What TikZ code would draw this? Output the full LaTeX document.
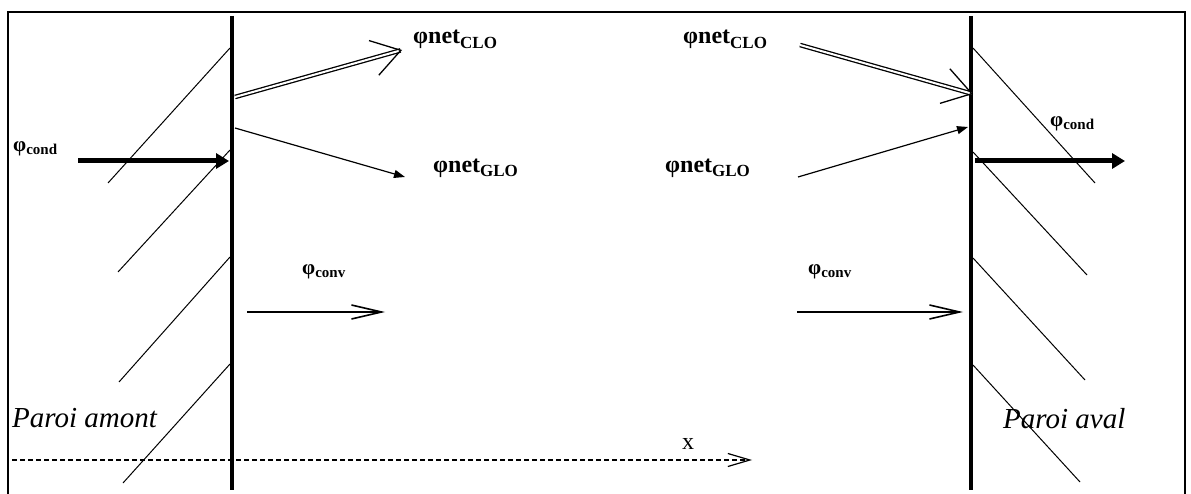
\documentclass[tikz,border=0pt]{standalone}
\usepackage{fontspec}
\setmainfont{Liberation Serif}
\usetikzlibrary{arrows.meta,calc}
\newcommand{\flux}[5]{{\fontsize{#1}{#1}\selectfont\bfseries #3\raisebox{-#4pt}{\fontsize{#2}{#2}\selectfont #5}}}
\tikzset{
  frame/.style={line width=2pt},
  wall/.style={line width=4.5pt},
  hatch/.style={line width=1pt},
  condarrow/.style={line width=5pt,-{Triangle[length=13pt,width=15pt]}},
  dblline/.style={line width=1.3pt,double distance=2pt},
  barbhead/.style={line width=1.3pt,-{Straight Barb[length=28pt,width=36pt]}},
  glo/.style={line width=1.2pt,-{Triangle[length=11pt,width=8pt]}},
  conv/.style={line width=1.6pt,-{Straight Barb[length=30pt,width=14pt]}},
  axis/.style={line width=1.2pt,dash pattern=on 5pt off 3pt,-{Straight Barb[length=22pt,width=13pt]}},
  lab/.style={inner sep=0pt,anchor=base west},
  wallname/.style={inner sep=0pt,anchor=base west,font=\fontsize{29}{30}\selectfont\itshape}
}
\begin{document}
\begin{tikzpicture}[x=1pt,y=-1pt]
\useasboundingbox (0,0) rectangle (1191,494);
\draw[frame] (8,494) -- (8,12) -- (1185,12) -- (1185,494);
% walls
\coordinate (lwt) at (232,16); \coordinate (lwb) at (232,490);
\coordinate (rwt) at (971,16); \coordinate (rwb) at (971,490);
\draw[wall] (lwt) -- (lwb);
\draw[wall] (rwt) -- (rwb);
% hatching
\draw[hatch] (230,48) -- (108,183);
\draw[hatch] (230,150) -- (118,272);
\draw[hatch] (230,257) -- (119,382);
\draw[hatch] (230,364) -- (123,483);
\draw[hatch] (973,48) -- (1095,183);
\draw[hatch] (973,152) -- (1087,275);
\draw[hatch] (973,258) -- (1085,380);
\draw[hatch] (973,365) -- (1080,482);
% labels
\node[lab] (cl1) at (413,44) {\flux{24}{17}{φnet}{5}{CLO}};
\node[lab] (cl2) at (683,44) {\flux{24}{17}{φnet}{5}{CLO}};
\node[lab] (gl1) at (433,173) {\flux{24}{17}{φnet}{4}{GLO}};
\node[lab] (gl2) at (665,173) {\flux{24}{17}{φnet}{4}{GLO}};
\node[lab] (cd1) at (13,152) {\flux{21}{15}{φ}{3}{cond}};
\node[lab] (cd2) at (1050,127) {\flux{21}{15}{φ}{3}{cond}};
\node[lab] (cv1) at (302,275) {\flux{21}{15}{φ}{3}{conv}};
\node[lab] (cv2) at (808,275) {\flux{21}{15}{φ}{3}{conv}};
\node[wallname] (pam) at (12,427) {Paroi amont};
\node[wallname] (pav) at (1003,428) {Paroi aval};
\node[inner sep=0pt,anchor=base,font=\fontsize{24}{24}\selectfont] (xl) at (688,449) {x};
% conduction arrows
\coordinate (cda) at (78,161); \coordinate (cdb) at (229,161);
\coordinate (cdc) at (975,161); \coordinate (cdd) at (1125,161);
\draw[condarrow] (cda) -- (cdb);
\draw[condarrow] (cdc) -- (cdd);
% CLO double arrows
\coordinate (c1s) at (235,97); \coordinate (c1e) at (402,50);
\coordinate (c2s) at (800,45); \coordinate (c2e) at (973,94);
\draw[dblline] (c1s) -- ($(c1e)!1.5pt!(c1s)$);
\draw[barbhead] ($(c1e)!2pt!(c1s)$) -- (c1e);
\draw[dblline] (c2s) -- ($(c2e)!1.5pt!(c2s)$);
\draw[barbhead] ($(c2e)!2pt!(c2s)$) -- (c2e);
% GLO arrows
\coordinate (g1s) at (235,128); \coordinate (g1e) at (405,177);
\coordinate (g2s) at (798,177); \coordinate (g2e) at (968,127);
\draw[glo] (g1s) -- (g1e);
\draw[glo] (g2s) -- (g2e);
% convection arrows
\coordinate (v1s) at (247,312); \coordinate (v1e) at (385,312);
\coordinate (v2s) at (797,312); \coordinate (v2e) at (963,312);
\draw[conv] (v1s) -- (v1e);
\draw[conv] (v2s) -- (v2e);
% x axis
\coordinate (xs) at (12,460); \coordinate (xe) at (752,460);
\draw[axis] (xs) -- (xe);
\end{tikzpicture}
\end{document}
